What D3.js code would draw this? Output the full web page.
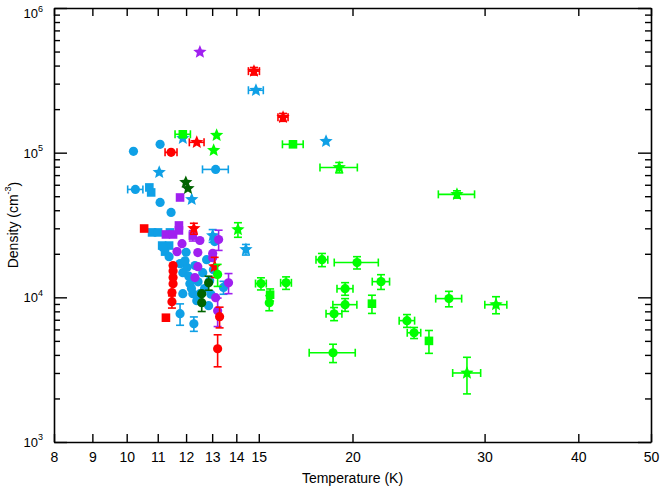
<!DOCTYPE html>
<html>
<head>
<meta charset="utf-8">
<script src="https://cdn.jsdelivr.net/npm/d3@7"></script>
<style>
  html, body { margin: 0; padding: 0; background: #fff; }
  svg { display: block; font-family: "Liberation Sans", Arial, Helvetica, sans-serif; }
</style>
</head>
<body>
<svg id="chart" width="664" height="487"></svg>
<script>
// ---------------- DATA: [Temperature (K), Density (cm^-3), T error, n error] ----------------
const xTicks = [8, 9, 10, 11, 12, 13, 14, 15, 20, 30, 40, 50];
const yMajorTicks = [1e3, 1e4, 1e5, 1e6];
const yTickExponents = ["3", "4", "5", "6"];

const blueCircles = [
  [10.21, 1.021e5, 0, 0], [11.08, 1.142e5, 0, 0], [13.14, 7.66e4, 0.52, 0],
  [10.27, 5.57e4, 0.24, 0], [11.08, 4.53e4, 0, 0], [11.46, 3.86e4, 0, 0],
  [11.39, 1.91e4, 0, 0], [11.78, 1.71e4, 0, 0], [12.03, 1.61e4, 0, 0],
  [11.88, 1.48e4, 0, 0], [12.14, 1.24e4, 0, 0], [11.88, 1.06e4, 0, 0],
  [12.25, 1.06e4, 0, 0], [12.52, 1.06e4, 0, 0], [12.40, 9.48e3, 0, 0],
  [11.78, 7.71e3, 0, 1.3e3], [12.29, 6.57e3, 0, 750], [12.86, 8.75e3, 0, 0],
  [13.46, 1.17e4, 0, 1.2e3], [12.78, 1.82e4, 0, 0], [11.96, 1.79e4, 0, 0],
  [13.10, 2.43e4, 0, 0], [11.18, 2.21e4, 0, 0], [12.33, 1.66e4, 0, 0],
  [12.63, 1.48e4, 0, 0], [12.90, 1.30e4, 0, 0], [12.70, 1.15e4, 0, 0],
  [12.10, 1.40e4, 0, 0], [12.45, 1.28e4, 0, 0], [12.20, 1.15e4, 0, 0],
  [12.95, 1.05e4, 0, 0], [13.05, 1.55e4, 0, 0], [12.00, 2.05e4, 0, 0]
];
const blueSquares = [
  [10.72, 5.75e4, 0, 0], [10.78, 5.31e4, 0, 0], [10.81, 2.81e4, 0, 0],
  [11.01, 2.81e4, 0, 0], [11.42, 2.81e4, 0, 0], [11.15, 2.28e4, 0, 0],
  [11.39, 2.28e4, 0, 0], [11.25, 2.07e4, 0, 0]
];
const blueStars = [
  [14.87, 2.70e5, 0.34, 0], [18.44, 1.198e5, 0, 0], [11.88, 1.257e5, 0, 0],
  [11.05, 7.31e4, 0, 0], [12.21, 4.75e4, 0, 0], [13.02, 2.67e4, 0, 2.7e3],
  [14.42, 2.14e4, 0, 1.8e3]
];

const purpleCircles = [
  [12.52, 2.47e4, 0, 0], [13.26, 2.51e4, 0, 4.0e3], [11.85, 2.35e4, 0, 0],
  [11.67, 2.07e4, 0, 0], [12.44, 2.04e4, 0, 0], [13.02, 2.01e4, 0, 0],
  [13.02, 1.88e4, 0, 0], [12.33, 1.37e4, 0, 0], [13.67, 1.26e4, 0, 2.0e3],
  [13.14, 9.95e3, 0, 0], [13.22, 8.08e3, 0, 1.8e3], [12.44, 1.63e4, 0, 0]
];
const purpleSquares = [
  [11.78, 4.90e4, 0, 0], [11.28, 2.72e4, 0, 0], [11.53, 2.72e4, 0, 0],
  [11.74, 3.14e4, 0, 0], [11.74, 2.90e4, 0, 0], [12.25, 2.67e4, 0, 2.2e3]
];
const purpleStars = [
  [12.52, 4.96e5, 0, 0]
];

const redCircles = [
  [11.46, 1.005e5, 0.21, 0], [11.53, 1.66e4, 0, 0], [11.53, 1.52e4, 0, 0],
  [11.53, 1.37e4, 0, 0], [11.53, 1.24e4, 0, 0], [11.49, 1.08e4, 0, 0],
  [11.49, 9.33e3, 0, 900], [13.22, 4.41e3, 0, 1.1e3], [13.30, 7.35e3, 0, 1.2e3]
];
const redSquares = [
  [10.55, 2.99e4, 0, 0], [11.28, 7.23e3, 0, 0]
];
const redStars = [
  [14.78, 3.66e5, 0.25, 2.2e4], [16.16, 1.757e5, 0.25, 1.1e4],
  [12.40, 1.179e5, 0.28, 0], [12.29, 2.99e4, 0, 2.6e3], [13.10, 1.63e4, 0, 2.6e3]
];

const darkGreenCircles = [
  [12.86, 1.26e4, 0, 1.4e3], [12.59, 1.06e4, 0, 0], [12.59, 9.18e3, 0, 1.2e3]
];
const darkGreenStars = [
  [11.99, 6.23e4, 0, 0], [12.07, 5.66e4, 0, 0]
];

const greenCircles = [
  [18.21, 1.82e4, 0.33, 1.9e3], [20.28, 1.74e4, 1.37, 1.7e3], [15.10, 1.245e4, 0.25, 1.2e3],
  [16.31, 1.26e4, 0.27, 1.25e3], [19.55, 1.148e4, 0.48, 1.15e3], [21.83, 1.284e4, 0.58, 1.5e3],
  [15.49, 9.18e3, 0, 1.1e3], [19.55, 8.9e3, 0.72, 900], [18.90, 7.7e3, 0.46, 800],
  [23.64, 6.9e3, 0.56, 700], [24.16, 5.69e3, 0.5, 500], [18.84, 4.14e3, 1.33, 600],
  [26.89, 9.8e3, 1.07, 1.2e3], [13.22, 1.44e4, 0, 2.5e3]
];
const greenSquares = [
  [15.53, 1.043e4, 0, 1.0e3], [21.23, 9.04e3, 0, 1.3e3], [25.29, 5.0e3, 0, 900],
  [16.66, 1.142e5, 0.53, 0], [11.88, 1.34e5, 0.28, 0]
];
const greenStars = [
  [19.2, 7.9e4, 1.1, 6.5e3], [14.07, 2.94e4, 0, 3.4e3], [27.56, 5.15e4, 1.53, 3.0e3],
  [31.07, 8.9e3, 1.05, 1.2e3], [28.42, 3.0e3, 1.22, 850], [13.18, 1.319e5, 0, 0],
  [13.06, 1.038e5, 0, 0]
];

// ---------------- STYLE ----------------
const BLUE = "#0fa0e6", PURPLE = "#a020f0", RED = "#ff0000", GREEN = "#00ff00", DKGREEN = "#006400";
const series = [
  { data: blueSquares, shape: "square", color: BLUE },
  { data: blueCircles, shape: "circle", color: BLUE },
  { data: blueStars, shape: "star", color: BLUE },
  { data: purpleSquares, shape: "square", color: PURPLE },
  { data: purpleCircles, shape: "circle", color: PURPLE },
  { data: purpleStars, shape: "star", color: PURPLE },
  { data: redSquares, shape: "square", color: RED },
  { data: redCircles, shape: "circle", color: RED },
  { data: redStars, shape: "star", color: RED },
  { data: darkGreenCircles, shape: "circle", color: DKGREEN },
  { data: darkGreenStars, shape: "star", color: DKGREEN },
  { data: greenSquares, shape: "square", color: GREEN },
  { data: greenCircles, shape: "circle", color: GREEN },
  { data: greenStars, shape: "star", color: GREEN }
];

const L = 54, R = 651, T = 8, B = 442;
const svg = d3.select("#chart");
const x = d3.scaleLog().domain([8, 50]).range([L, R]);
const y = d3.scaleLog().domain([1e3, 1e6]).range([B, T]);

// minor y ticks
const yMinor = [];
[3, 4, 5].forEach(k => { for (let m = 2; m <= 9; m++) yMinor.push(m * Math.pow(10, k)); });

function styleAxis(g) {
  g.selectAll("path.domain").attr("stroke", "#000").attr("stroke-width", 1.6);
  g.selectAll(".tick line").attr("stroke", "#000").attr("stroke-width", 1.4);
}

// bottom axis
const gB = svg.append("g").attr("transform", `translate(0,${B})`)
  .call(d3.axisBottom(x).tickValues(xTicks).tickFormat(d3.format("d")).tickSize(-8).tickSizeOuter(0).tickPadding(10));
gB.selectAll("text").attr("font-size", 14).attr("fill", "#000");
styleAxis(gB);
// top axis
const gT = svg.append("g").attr("transform", `translate(0,${T})`)
  .call(d3.axisTop(x).tickValues(xTicks).tickFormat("").tickSize(-8).tickSizeOuter(0));
styleAxis(gT);
// left axis majors
const gL = svg.append("g").attr("transform", `translate(${L},0)`)
  .call(d3.axisLeft(y).tickValues(yMajorTicks).tickSize(-13).tickSizeOuter(0).tickPadding(11).tickFormat(() => ""));
styleAxis(gL);
gL.selectAll(".tick text").each(function(d, i) {
  const t = d3.select(this).attr("font-size", 13).attr("fill", "#000")
    .attr("dy", i === yMajorTicks.length - 1 ? "0.75em" : "0.35em");
  t.append("tspan").text("10");
  t.append("tspan").attr("font-size", 9).attr("dy", "-0.75em").text(yTickExponents[i]);
});
const gLm = svg.append("g").attr("transform", `translate(${L},0)`)
  .call(d3.axisLeft(y).tickValues(yMinor).tickSize(-6).tickSizeOuter(0).tickFormat(""));
styleAxis(gLm); gLm.select("path.domain").remove();
// right axis
const gR = svg.append("g").attr("transform", `translate(${R},0)`)
  .call(d3.axisRight(y).tickValues(yMajorTicks).tickSize(-13).tickSizeOuter(0).tickFormat(""));
styleAxis(gR);
const gRm = svg.append("g").attr("transform", `translate(${R},0)`)
  .call(d3.axisRight(y).tickValues(yMinor).tickSize(-6).tickSizeOuter(0).tickFormat(""));
styleAxis(gRm); gRm.select("path.domain").remove();

// titles
svg.append("text").attr("x", (L + R) / 2).attr("y", 483).attr("text-anchor", "middle")
  .attr("font-size", 14).text("Temperature (K)");
const yt = svg.append("text").attr("transform", `translate(18,${(T + B) / 2}) rotate(-90)`)
  .attr("text-anchor", "middle").attr("font-size", 14);
yt.append("tspan").text("Density (cm");
yt.append("tspan").attr("font-size", 9).attr("dy", "-0.8em").text("-3");
yt.append("tspan").attr("dy", "0.55em").text(")");

// marks
function starPath(cx, cy, Ro) {
  const Ri = Ro * 0.45;
  let s = "";
  for (let i = 0; i < 10; i++) {
    const r = i % 2 === 0 ? Ro : Ri;
    const a = -Math.PI / 2 + i * Math.PI / 5;
    s += (i === 0 ? "M" : "L") + (cx + r * Math.cos(a)).toFixed(2) + "," + (cy + r * Math.sin(a)).toFixed(2);
  }
  return s + "Z";
}
const circleSym = d3.symbol().type(d3.symbolCircle).size(Math.PI * 4.6 * 4.6);
const squareSym = d3.symbol().type(d3.symbolSquare).size(8.6 * 8.6);
const cap = 4;

const plot = svg.append("g");
series.forEach(s => {
  const g = plot.append("g");
  s.data.forEach(p => {
    const [tv, nv, te, ne] = p;
    const px = x(tv), py = y(nv);
    const eg = g.append("g").attr("stroke", s.color).attr("stroke-width", 1.6);
    if (te > 0) {
      const x1 = x(tv - te), x2 = x(tv + te);
      eg.append("line").attr("x1", x1).attr("x2", x2).attr("y1", py).attr("y2", py);
      eg.append("line").attr("x1", x1).attr("x2", x1).attr("y1", py - cap).attr("y2", py + cap);
      eg.append("line").attr("x1", x2).attr("x2", x2).attr("y1", py - cap).attr("y2", py + cap);
    }
    if (ne > 0) {
      const y1 = y(nv - ne), y2 = y(nv + ne);
      eg.append("line").attr("x1", px).attr("x2", px).attr("y1", y1).attr("y2", y2);
      eg.append("line").attr("x1", px - cap).attr("x2", px + cap).attr("y1", y1).attr("y2", y1);
      eg.append("line").attr("x1", px - cap).attr("x2", px + cap).attr("y1", y2).attr("y2", y2);
    }
    if (s.shape === "star") {
      g.append("path").attr("d", starPath(px, py, 7)).attr("fill", s.color);
    } else {
      g.append("path").attr("d", s.shape === "circle" ? circleSym() : squareSym())
        .attr("transform", `translate(${px},${py})`).attr("fill", s.color);
    }
  });
});
</script>
</body>
</html>
